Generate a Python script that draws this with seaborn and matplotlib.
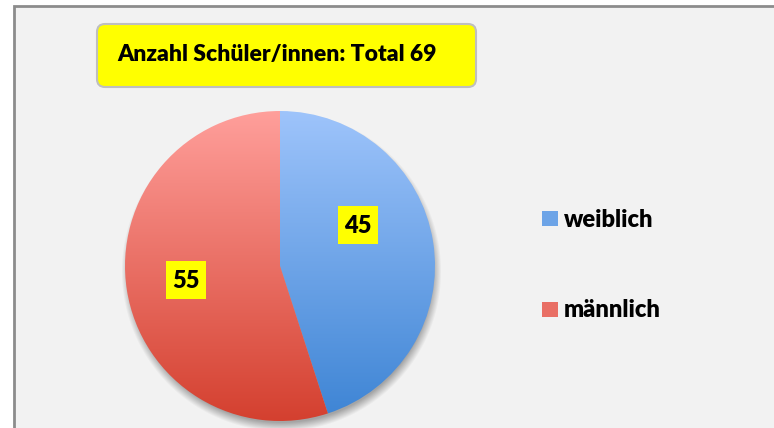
import numpy as np
import matplotlib
matplotlib.use("Agg")
import matplotlib.pyplot as plt
import seaborn as sns
from matplotlib.patches import Rectangle, FancyBboxPatch, Patch
from matplotlib.colors import to_rgb

categories = ["weiblich", "männlich"]
values = [45, 55]
title_text = "Anzahl Schüler/innen: Total 69"
grad_top = ["#9ec4fb", "#ff9f9b"]
grad_bottom = ["#3d84d4", "#d4402f"]

sns.set_theme(style="white")
plt.rcParams['font.family'] = ['Lato', 'DejaVu Sans']
plt.rcParams['text.color'] = 'black'

W, H = 774, 428
fig = plt.figure(figsize=(W / 100, H / 100), dpi=100)
fig.patch.set_facecolor("white")
ax = fig.add_axes([0, 0, 1, 1])

def py(y):
    return H - y

# outer chart frame
ax.add_patch(Rectangle((14, py(6) - 500), 800, 500, facecolor="#f2f2f2",
                       edgecolor="#8c8c8c", lw=2, zorder=0))

cx, cy, R = 280, py(266), 155

# soft shadow
ys, xs = np.mgrid[py(90):py(450):-1, 100:460]
d = np.hypot(xs - (cx + 1), ys - (cy - 5))
alpha = np.clip((R + 5 - d) / 9, 0, 1) * 0.5
shadow = np.zeros(d.shape + (4,))
shadow[..., :3] = 0.35
shadow[..., 3] = alpha
ax.imshow(shadow, extent=(100, 460, py(450), py(90)), origin="upper",
          zorder=1, interpolation="bilinear")

wedges, _ = ax.pie(values, startangle=90, counterclock=False,
                   center=(cx, cy), radius=R, frame=True,
                   wedgeprops=dict(linewidth=0, facecolor="none"))

for w, top, bot in zip(wedges, grad_top, grad_bottom):
    pal = sns.blend_palette([top, bot], n_colors=256)
    img = np.array([to_rgb(c) for c in pal])[:, None, :]
    im = ax.imshow(img, extent=(cx - R, cx + R, cy - R, cy + R), origin="upper",
                   aspect="auto", zorder=2, interpolation="bilinear")
    im.set_clip_path(w)

# data labels
label_pos = [(358, 225), (186, 280)]
for (lx, ly), v in zip(label_pos, values):
    ax.add_patch(Rectangle((lx - 20, py(ly) - 19), 40, 38, facecolor="#ffff00",
                           edgecolor="none", zorder=3))
    ax.text(lx, py(ly) - 1, str(v), ha="center", va="center", fontsize=17,
            fontweight="heavy", color="black", zorder=4)

# title box
ax.add_patch(FancyBboxPatch((97 + 8, py(87) + 8), 379 - 16, 63 - 16,
                            boxstyle="round,pad=8", facecolor="#ffff00",
                            edgecolor="#bfbfbf", lw=1.5, zorder=3))
ax.text(117, py(54), title_text, ha="left", va="center", fontsize=16.5,
        fontweight="heavy", color="black", zorder=4)

# legend
handles = [Patch(facecolor=sns.blend_palette([t, b], 3)[1], edgecolor="none")
           for t, b in zip(grad_top, grad_bottom)]
leg = ax.legend(handles, categories, loc="upper left",
                bbox_to_anchor=(542 / W, 1 - 209 / H), frameon=False,
                prop=dict(family="Lato", weight="heavy", size=17),
                handlelength=0.68, handleheight=0.6, handletextpad=0.25,
                labelspacing=2.9, borderpad=0, borderaxespad=0,
                labelcolor="black")

ax.set_xlim(0, W)
ax.set_ylim(0, H)
ax.set_aspect("auto")
ax.axis("off")
fig.savefig("out.png", dpi=100, facecolor="white")
